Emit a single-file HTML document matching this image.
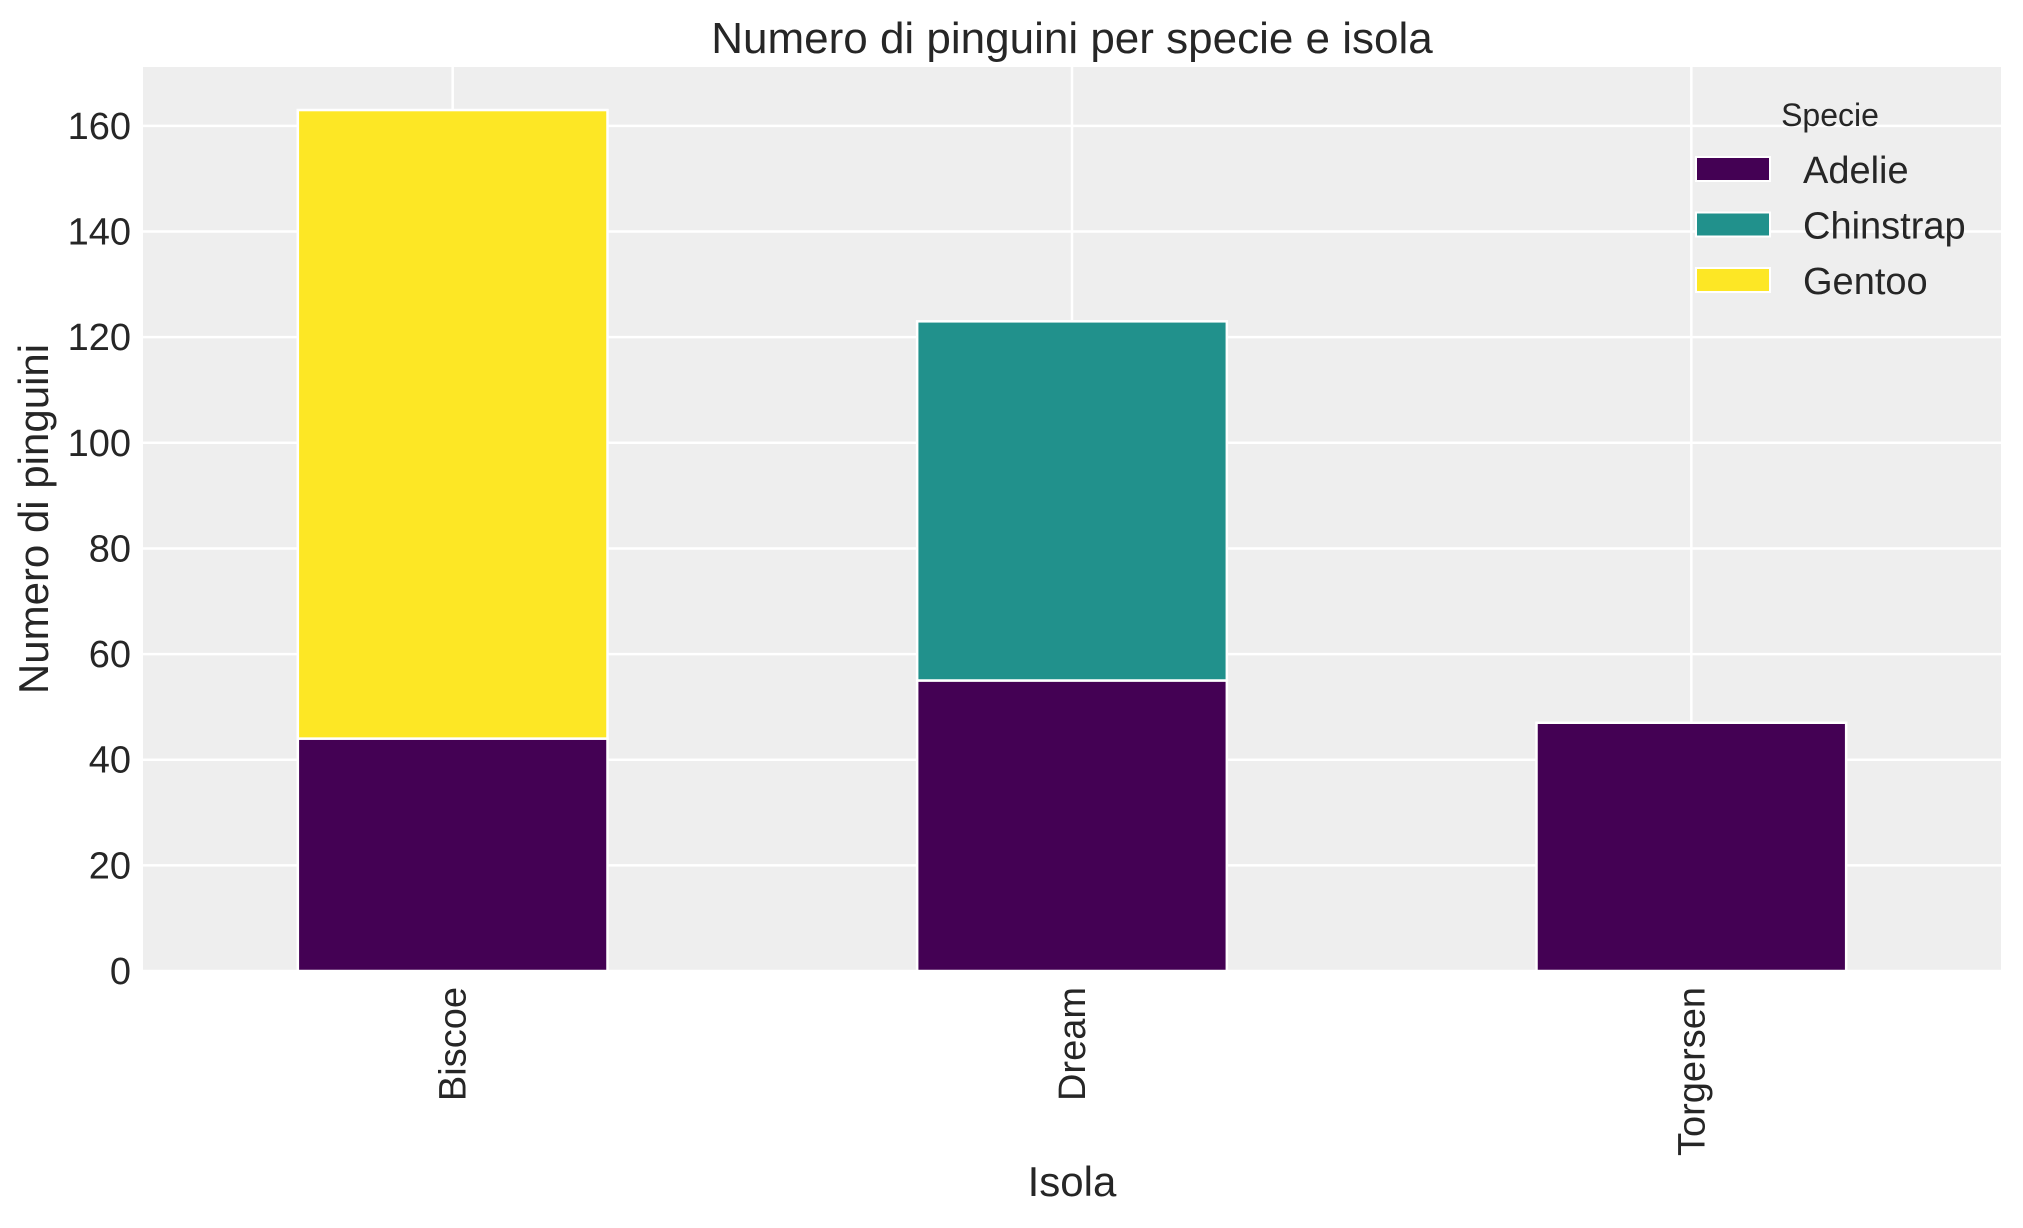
<!DOCTYPE html>
<html><head><meta charset="utf-8"><style>
body{margin:0;background:#fff;}
svg text{font-family:"Liberation Sans",Arial,sans-serif;fill:#262626;}
</style></head><body>
<svg id="chart" width="2023" height="1223" xmlns="http://www.w3.org/2000/svg"></svg>
<script>
const categories = ["Biscoe", "Dream", "Torgersen"];
const species = ["Adelie", "Chinstrap", "Gentoo"];
const adelie = [44, 55, 47];
const chinstrap = [0, 68, 0];
const gentoo = [119, 0, 0];
const yTicks = [0, 20, 40, 60, 80, 100, 120, 140, 160];
const colors = ["#440154", "#21918c", "#fde725"];

const NS = "http://www.w3.org/2000/svg";
const svg = document.getElementById("chart");
const L = 143, R = 2001, T = 67, B = 971;
const yMax = 171.15;
const y = v => B - v / yMax * (B - T);
const xStep = (R - L) / categories.length;
const x = i => L + xStep * (i + 0.5);
const barW = xStep * 0.5;

function mk(tag, attrs, parent) {
  const e = document.createElementNS(NS, tag);
  for (const k in attrs) e.setAttribute(k, attrs[k]);
  (parent || svg).appendChild(e);
  return e;
}

const bg = mk("rect", {x: L, y: T, width: R - L, height: B - T, fill: "#eeeeee"});



yTicks.forEach(v => {
  const g = mk("line", {x1: L, x2: R, y1: y(v), y2: y(v), stroke: "#fff", "stroke-width": 2.5});
  
  
  const t = mk("text", {x: L - 12, y: y(v) + 13, "text-anchor": "end", "font-size": 38});
  t.textContent = v;
  
  
});
categories.forEach((c, i) => {
  const g = mk("line", {x1: x(i), x2: x(i), y1: T, y2: B, stroke: "#fff", "stroke-width": 2.5});
  
  
  const t = mk("text", {transform: `translate(${x(i) + 13},987) rotate(-90)`, "text-anchor": "end", "font-size": 38});
  t.textContent = c;
  
  
});

const series = [adelie, chinstrap, gentoo];
categories.forEach((c, i) => {
  let base = 0;
  series.forEach((s, k) => {
    const v = s[i];
    if (v > 0) {
      const r = mk("rect", {x: x(i) - barW / 2, y: y(base + v), width: barW, height: y(base) - y(base + v), fill: colors[k], stroke: "#fff", "stroke-width": 2.5});
      
      
    }
    base += v;
  });
});

const title = mk("text", {x: (L + R) / 2, y: 53, "text-anchor": "middle", "font-size": 44});
title.textContent = "Numero di pinguini per specie e isola";



const xl = mk("text", {x: (L + R) / 2, y: 1196, "text-anchor": "middle", "font-size": 42});
xl.textContent = "Isola";



const yl = mk("text", {transform: `translate(48,${(T + B) / 2}) rotate(-90)`, "text-anchor": "middle", "font-size": 42});
yl.textContent = "Numero di pinguini";



const lg = mk("g", {});


const lt = mk("text", {x: 1830, y: 126, "text-anchor": "middle", "font-size": 32}, lg);
lt.textContent = "Specie";


species.forEach((s, k) => {
  const yy = 157 + k * 55.5;
  const p = mk("rect", {x: 1696, y: yy, width: 74, height: 24, fill: colors[k], stroke: "#fff", "stroke-width": 2}, lg);
  
  
  const t = mk("text", {x: 1803, y: yy + 26, "font-size": 38}, lg);
  t.textContent = s;
  
  
});
</script>
</body></html>
